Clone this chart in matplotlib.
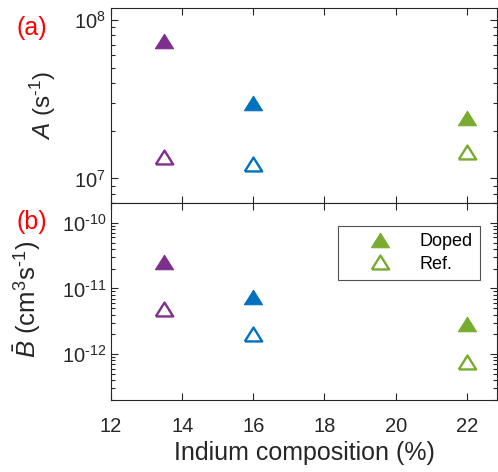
import matplotlib
matplotlib.use("Agg")
import matplotlib.pyplot as plt
from matplotlib.ticker import FuncFormatter
from matplotlib.lines import Line2D
import numpy as np

plt.rcParams['font.family'] = ['Liberation Sans', 'DejaVu Sans']
plt.rcParams['mathtext.fontset'] = 'custom'
plt.rcParams['mathtext.rm'] = 'Liberation Sans'
plt.rcParams['mathtext.it'] = 'Liberation Sans:italic'
plt.rcParams['mathtext.bf'] = 'Liberation Sans:bold'

indium = [13.5, 16, 22]
colors = ['#7E2F8E', '#0072BD', '#77AC30']
A_doped = [7.4e7, 3.0e7, 2.42e7]
A_ref = [1.36e7, 1.24e7, 1.46e7]
B_doped = [2.55e-11, 7.4e-12, 2.9e-12]
B_ref = [4.9e-12, 2.04e-12, 7.6e-13]
xticks = [12, 14, 16, 18, 20, 22]

txt = '#262626'
HY = '\u2010'
tri = [(-1, -0.8), (1, -0.8), (0, 0.8), (-1, -0.8)]


def fmt(v, pos):
    n = int(round(np.log10(v)))
    s = str(n).replace('-', HY)
    return r'$10^{%s}$' % s


fig = plt.figure(figsize=(4.98, 4.72), dpi=100)
ax1 = fig.add_axes([0.223, 0.570, 0.775, 0.414])
ax2 = fig.add_axes([0.223, 0.1525, 0.775, 0.4175])

ms = 13
for ax, dop, ref in [(ax1, A_doped, A_ref), (ax2, B_doped, B_ref)]:
    for x, d, r, c in zip(indium, dop, ref, colors):
        ax.plot([x], [d], marker=tri, ls='none', color=c, ms=ms, mec=c, mew=0.8)
        ax.plot([x], [r], marker=tri, ls='none', mfc='white', mec=c, ms=ms - 0.5, mew=1.7)
    ax.set_yscale('log')
    ax.set_xlim(12, 22.85)
    ax.set_xticks(xticks)
    ax.yaxis.set_major_formatter(FuncFormatter(fmt))
    ax.tick_params(which='both', direction='in', top=True, right=True,
                   colors=txt, labelsize=14.5, width=0.8)
    ax.tick_params(which='major', length=5)
    ax.tick_params(which='minor', length=3)
    for s in ax.spines.values():
        s.set_color(txt)
        s.set_linewidth(0.8)

ax1.set_ylim(7e6, 1.2e8)
ax1.set_xticklabels([])
ax1.set_ylabel(r'$\mathit{A}$ (s$^{%s1}$)' % HY, fontsize=17.5, color=txt)
ax1.yaxis.set_label_coords(-0.137, 0.50)

ax2.set_ylim(2e-13, 2e-10)
ax2.set_yticks([1e-12, 1e-11, 1e-10])
ax2.set_xticklabels([str(t) for t in xticks])
ax2.tick_params(axis='x', pad=12)
ax2.set_xlabel('Indium composition (%)', fontsize=18, color=txt, labelpad=4)
ax2.set_ylabel(r'$\bar{\mathit{B}}$ (cm$^3$s$^{%s1}$)' % HY, fontsize=18.5, color=txt)
ax2.yaxis.set_label_coords(-0.176, 0.51)

h = [Line2D([], [], ls='none', marker=tri, color=colors[2], ms=ms, mew=0.8),
     Line2D([], [], ls='none', marker=tri, mfc='white', mec=colors[2], ms=ms - 0.5, mew=1.7)]
leg = ax2.legend(h, ['Doped', 'Ref.'], loc='upper right', fontsize=13,
                 frameon=True, fancybox=False, edgecolor=txt,
                 bbox_to_anchor=(0.956, 0.883), borderaxespad=0,
                 handlelength=3.8, handletextpad=0.3, borderpad=0.4,
                 labelspacing=0.3)
leg.get_frame().set_linewidth(0.8)

fig.text(0.034, 0.941, '(a)', color='red', fontsize=18, va='center')
fig.text(0.034, 0.530, '(b)', color='red', fontsize=18, va='center')

fig.savefig('out.png', dpi=100)
